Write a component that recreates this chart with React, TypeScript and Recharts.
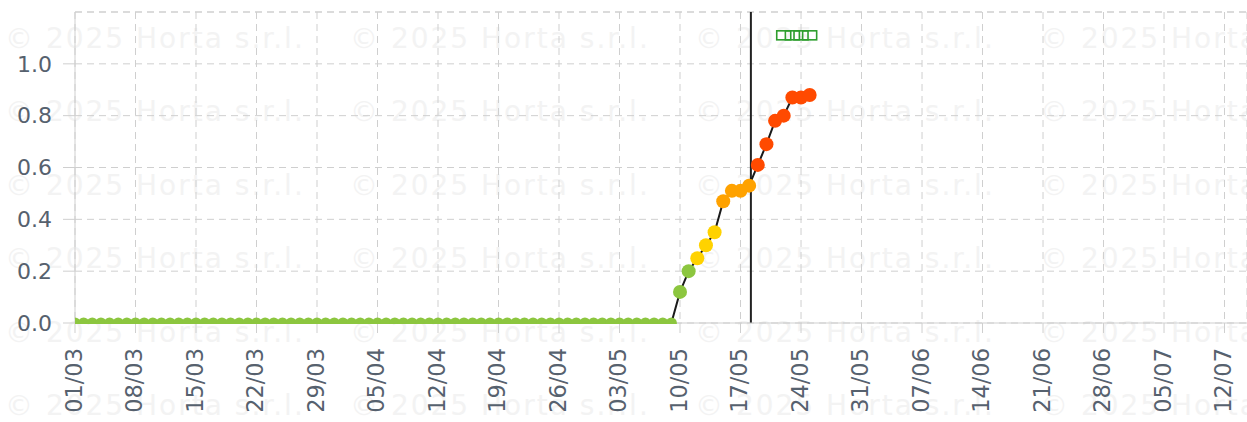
import React from "react";
import {
  CartesianGrid,
  ComposedChart,
  Line,
  ReferenceLine,
  Scatter,
  XAxis,
  YAxis
} from "recharts";

// daily risk index since 01/03 (index = day number)
const riskValues = [
  0, 0, 0, 0, 0, 0, 0, 0, 0, 0,
  0, 0, 0, 0, 0, 0, 0, 0, 0, 0,
  0, 0, 0, 0, 0, 0, 0, 0, 0, 0,
  0, 0, 0, 0, 0, 0, 0, 0, 0, 0,
  0, 0, 0, 0, 0, 0, 0, 0, 0, 0,
  0, 0, 0, 0, 0, 0, 0, 0, 0, 0,
  0, 0, 0, 0, 0, 0, 0, 0, 0, 0,
  0.12, 0.2, 0.25, 0.3, 0.35, 0.47, 0.51, 0.51, 0.53, 0.61,
  0.69, 0.78, 0.8, 0.87, 0.87, 0.88
];

const treatmentDays = [82, 83, 84, 85];
const treatmentLevel = 1.11;
const todayDay = 78.2;

const xTicks = [0, 7, 14, 21, 28, 35, 42, 49, 56, 63, 70, 77, 84, 91, 98, 105, 112, 119, 126, 133];
const xTickLabels = [
  "01/03", "08/03", "15/03", "22/03", "29/03", "05/04", "12/04", "19/04", "26/04", "03/05",
  "10/05", "17/05", "24/05", "31/05", "07/06", "14/06", "21/06", "28/06", "05/07", "12/07"
];
const yTicks = [0, 0.2, 0.4, 0.6, 0.8, 1.0];

const watermarkX = [5, 350, 695, 1040];
const watermarkY = [48, 121, 195, 268, 342, 415];

const FONT = "'DejaVu Sans', Verdana, sans-serif";
const LABEL_COLOR = "#56616e";
const GRID_COLOR = "#cfcfcf";

const chartData = riskValues.map((value, day) => ({ day, value }));
const treatmentData = treatmentDays.map((day) => ({ day, level: treatmentLevel }));

function riskColor(value: number): string {
  if (value < 0.22) return "#8cc63f";
  if (value < 0.42) return "#ffd200";
  if (value < 0.56) return "#ffa200";
  return "#ff4a00";
}

function RiskDot(props: any) {
  const { cx, cy, payload, index } = props;
  if (cx == null || cy == null) return null;
  const color = riskColor(payload.value);
  if (payload.value === 0) {
    const r = 5.5;
    return (
      <path
        key={index}
        d={`M${cx - r},${cy + 1} L${cx - r},${cy} A${r},${r} 0 0 1 ${cx + r},${cy} L${cx + r},${cy + 1} Z`}
        fill={color}
      />
    );
  }
  return <circle key={index} cx={cx} cy={cy} r={7} fill={color} />;
}

function TreatmentMark(props: any) {
  const { cx, cy } = props;
  return (
    <rect x={cx - 7} y={cy - 4.5} width={14} height={9} fill="none" stroke="#2e9e2e" strokeWidth={1.6} />
  );
}

function XTick(props: any) {
  const { x, y, payload } = props;
  const idx = xTicks.indexOf(payload.value);
  const label = idx >= 0 ? xTickLabels[idx] : "";
  return (
    <text
      x={x}
      y={y}
      transform={`rotate(-90 ${x} ${y})`}
      textAnchor="end"
      dy="0.3em"
      fill={LABEL_COLOR}
      fontSize={22.5}
      fontFamily={FONT}
    >
      {label}
    </text>
  );
}

export default function App() {
  return (
    <div style={{ position: "relative", width: 1247, height: 422, background: "#fff" }}>
      <style>{"body{margin:0}"}</style>
      <svg width={1247} height={422} style={{ position: "absolute", left: 0, top: 0 }}>
        {watermarkY.map((wy) =>
          watermarkX.map((wx) => (
            <text
              key={`${wx}-${wy}`}
              x={wx}
              y={wy}
              fontSize={28}
              letterSpacing={2}
              fontFamily={FONT}
              fill="#f3f3f3"
            >
              © 2025 Horta s.r.l.
            </text>
          ))
        )}
      </svg>
      <div style={{ position: "absolute", left: 0, top: 0 }}>
        <ComposedChart
          width={1247}
          height={422}
          data={chartData}
          margin={{ top: 12, right: 0, bottom: 0, left: 0 }}
        >
          <CartesianGrid stroke={GRID_COLOR} strokeDasharray="7 5" />
          <XAxis
            dataKey="day"
            type="number"
            domain={[0, 135.6]}
            ticks={xTicks}
            allowDataOverflow
            height={99}
            tickSize={10}
            tickMargin={15}
            stroke={GRID_COLOR}
            tick={<XTick />}
          />
          <YAxis
            type="number"
            domain={[0, 1.2]}
            ticks={yTicks}
            width={75}
            tickSize={12}
            tickMargin={11}
            stroke={GRID_COLOR}
            tickFormatter={(v: number) => v.toFixed(1)}
            tick={{ fill: LABEL_COLOR, fontSize: 22, fontFamily: FONT }}
          />
          <ReferenceLine y={1.2} stroke={GRID_COLOR} strokeDasharray="7 5" />
          <ReferenceLine x={todayDay} stroke="#222" strokeWidth={2} />
          <Line
            dataKey="value"
            type="linear"
            stroke="#1a1a1a"
            strokeWidth={2}
            dot={<RiskDot />}
            activeDot={false}
            isAnimationActive={false}
          />
          <Scatter
            data={treatmentData}
            dataKey="level"
            shape={<TreatmentMark />}
            isAnimationActive={false}
          />
        </ComposedChart>
      </div>
    </div>
  );
}
